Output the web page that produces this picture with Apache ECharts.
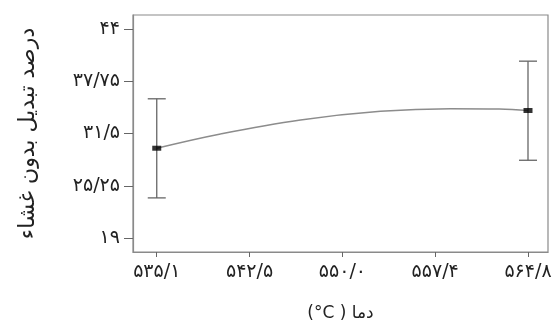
<!DOCTYPE html>
<html>
<head>
<meta charset="utf-8">
<script src="https://cdn.jsdelivr.net/npm/echarts@6/dist/echarts.min.js"></script>
<style>
  html, body { margin: 0; padding: 0; background: #fff; }
  #chart { width: 556px; height: 320px; }
</style>
</head>
<body>
<div id="chart"></div>
<script>
// axis ticks and their labels (Persian digits, "/" as decimal mark)
var xTicks = [535.1, 542.525, 549.95, 557.375, 564.8];
var xTickLabels = ["۵۳۵/۱", "۵۴۲/۵", "۵۵۰/۰", "۵۵۷/۴", "۵۶۴/۸"];
var yTicks = [19, 25.25, 31.5, 37.75, 44];
var yTickLabels = ["۱۹", "۲۵/۲۵", "۳۱/۵", "۳۷/۷۵", "۴۴"];

// measured points with error bars
var pointX = [535.1, 564.8];
var pointMean = [29.74, 34.25];
var pointLow = [23.8, 28.3];
var pointHigh = [35.65, 40.15];

// fitted curve
var curveX = [535.1, 540.2, 546.6, 553.0, 558.6, 562.5, 564.8];
var curveY = [29.74, 31.45, 33.12, 34.15, 34.47, 34.43, 34.25];

var font = "DejaVu Sans";

function lookup(ticks, labels) {
  return function (v) {
    for (var i = 0; i < ticks.length; i++) {
      if (Math.abs(ticks[i] - v) < 1e-6) return labels[i];
    }
    return "";
  };
}

var chart = echarts.init(document.getElementById("chart"));

var option = {
  animation: false,
  grid: {
    left: 133,
    right: 8,
    top: 15,
    bottom: 68,
    outerBoundsMode: "none",
    show: true,
    borderColor: "#8a8a8a",
    borderWidth: 1.2
  },
  xAxis: {
    type: "value",
    min: 533.2,
    max: 566.4,
    name: "(°C ) دما",
    nameLocation: "middle",
    nameGap: 53,
    nameTextStyle: { fontFamily: font, fontSize: 17, color: "#222" },
    axisLine: { show: true, lineStyle: { color: "#8a8a8a", width: 1.2 } },
    axisTick: { show: true, length: 5, customValues: xTicks, lineStyle: { color: "#666" } },
    axisLabel: {
      customValues: xTicks,
      formatter: lookup(xTicks, xTickLabels),
      margin: 11,
      fontFamily: font,
      fontSize: 19,
      color: "#222"
    },
    splitLine: { show: false }
  },
  yAxis: {
    type: "value",
    min: 17.33,
    max: 45.67,
    name: "درصد تبدیل بدون غشاء",
    nameLocation: "middle",
    nameRotate: 90,
    nameGap: 94,
    nameTextStyle: { fontFamily: font, fontSize: 22, color: "#222" },
    axisLine: { show: true, lineStyle: { color: "#8a8a8a", width: 1.2 } },
    axisTick: { show: true, length: 9, customValues: yTicks, lineStyle: { color: "#666" } },
    axisLabel: {
      customValues: yTicks,
      formatter: lookup(yTicks, yTickLabels),
      margin: 13,
      fontFamily: font,
      fontSize: 19,
      color: "#222"
    },
    splitLine: { show: false }
  },
  series: [
    {
      type: "line",
      smooth: 0.4,
      symbol: "none",
      data: curveX.map(function (x, i) { return [x, curveY[i]]; }),
      lineStyle: { color: "#8c8c8c", width: 1.5 },
      z: 2
    },
    {
      type: "custom",
      data: pointX.map(function (x, i) { return [x, pointLow[i], pointHigh[i]]; }),
      renderItem: function (params, api) {
        var lo = api.coord([api.value(0), api.value(1)]);
        var hi = api.coord([api.value(0), api.value(2)]);
        var cap = 9;
        var style = { stroke: "#666", lineWidth: 1.3 };
        return {
          type: "group",
          children: [
            { type: "line", shape: { x1: lo[0], y1: lo[1], x2: hi[0], y2: hi[1] }, style: style },
            { type: "line", shape: { x1: lo[0] - cap, y1: lo[1], x2: lo[0] + cap, y2: lo[1] }, style: style },
            { type: "line", shape: { x1: hi[0] - cap, y1: hi[1], x2: hi[0] + cap, y2: hi[1] }, style: style }
          ]
        };
      },
      z: 3
    },
    {
      type: "scatter",
      symbol: "rect",
      symbolSize: [9, 5],
      data: pointX.map(function (x, i) { return [x, pointMean[i]]; }),
      itemStyle: { color: "#000" },
      z: 4
    }
  ]
};

chart.setOption(option);
</script>
</body>
</html>
